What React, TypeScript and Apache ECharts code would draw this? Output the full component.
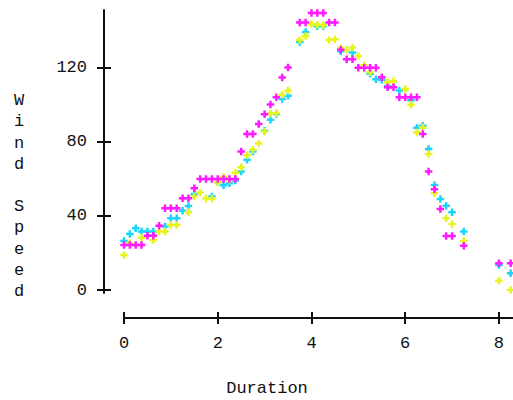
import React, { useEffect, useRef } from 'react';
import * as echarts from 'echarts';

const xTicks = [0, 2, 4, 6, 8];
const yTicks = [0, 40, 80, 120];

const magenta: [number, number][] = [
  [0, 24.3], [0.125, 24.3], [0.25, 24.3], [0.375, 24.3], [0.5, 29.3], [0.625, 29.3],
  [0.75, 34.6], [0.875, 44.1], [1.0, 44.1], [1.125, 44.1], [1.25, 49.5], [1.375, 49.5],
  [1.5, 54.9], [1.625, 59.9], [1.75, 59.9], [1.875, 59.9], [2.0, 59.9], [2.125, 59.9],
  [2.25, 59.9], [2.375, 59.9], [2.5, 74.7], [2.625, 84.2], [2.75, 84.2], [2.875, 89.5],
  [3.0, 94.8], [3.125, 100], [3.25, 104], [3.375, 114.6], [3.5, 120], [3.75, 144.3],
  [3.875, 144.3], [4.0, 149.4], [4.125, 149.4], [4.25, 149.4], [4.375, 144.3], [4.5, 144.3],
  [4.625, 129.6], [4.75, 124.4], [4.875, 124.4], [5.0, 119.8], [5.125, 119.8], [5.25, 119.8],
  [5.375, 119.8], [5.5, 114.7], [5.625, 109.4], [5.75, 109.4], [5.875, 104], [6.0, 104],
  [6.125, 104], [6.25, 104], [6.375, 84.2], [6.5, 63.9], [6.625, 54.4], [6.75, 43.7],
  [6.875, 29.2], [7.0, 29.2], [7.25, 23.9], [8.0, 14.4], [8.25, 14.4],
];

const cyan: [number, number][] = [
  [0, 26.5], [0.125, 30.2], [0.25, 33.3], [0.375, 31.5], [0.5, 31.5], [0.625, 31.5],
  [0.875, 34.2], [1.0, 38.7], [1.125, 38.7], [1.25, 42.8], [1.375, 45.3], [1.5, 51.8],
  [1.875, 50.4], [2.0, 58.1], [2.125, 56.5], [2.25, 57.6], [2.375, 59], [2.5, 63.9],
  [2.625, 70.2], [2.75, 74.7], [3.0, 85.9], [3.125, 91.8], [3.25, 94.9], [3.375, 103],
  [3.5, 104.8], [3.75, 133.7], [3.875, 139.1], [4.125, 142.2], [4.25, 142.2], [4.625, 128.7],
  [4.875, 128.1], [5.25, 116.6], [5.375, 113.6], [5.5, 113.4], [5.625, 110], [5.875, 107.6],
  [6.125, 102.4], [6.25, 87.5], [6.375, 88.6], [6.5, 76], [6.625, 56.7], [6.75, 49.1],
  [6.875, 45.4], [7.0, 42], [7.25, 31.5], [8.0, 13.5], [8.25, 9],
];

const yellow: [number, number][] = [
  [0, 18.9], [0.125, 25.2], [0.375, 28.2], [0.625, 27], [0.75, 31.5], [0.875, 31.5],
  [1.0, 35.1], [1.125, 35.1], [1.375, 42], [1.5, 50.4], [1.625, 52.6], [1.75, 49.3],
  [1.875, 49.3], [2.0, 58.1], [2.125, 61], [2.25, 59.5], [2.375, 63.2], [2.5, 66.2],
  [2.625, 72.7], [2.75, 75.6], [2.875, 79], [3.0, 85.5], [3.125, 95.2], [3.25, 95.5],
  [3.375, 105.3], [3.5, 107.6], [3.75, 134.8], [3.875, 137], [4.0, 143.4], [4.125, 143],
  [4.25, 142.8], [4.375, 134.8], [4.5, 135.2], [4.625, 130.5], [4.75, 129.4], [4.875, 130.8],
  [5.0, 126.2], [5.125, 121.2], [5.25, 117.5], [5.625, 112], [5.75, 112.7], [6.0, 108.4],
  [6.125, 99.9], [6.25, 85], [6.375, 87.7], [6.5, 73.3], [6.625, 52.2], [6.875, 38.7],
  [7.0, 35.6], [7.25, 26.5], [8.0, 5], [8.25, 0],
];

const seriesColors = { magenta: '#ff1aff', cyan: '#1ad6ff', yellow: '#e8f51c' };

export default function App() {
  const ref = useRef<HTMLDivElement>(null);
  useEffect(() => {
    const chart = echarts.init(ref.current!, null, { renderer: 'svg' });
    const font = 'Liberation Mono';
    const ink = '#111';
    const plus = 'path://M3,0H6V3H9V6H6V9H3V6H0V3H3Z';
    const xCommon = {
      type: 'value', position: 'bottom', offset: 25, min: 0, max: 8.3,
      splitLine: { show: false },
    };
    const yCommon = {
      type: 'value', position: 'left', offset: 20, min: -1.6, max: 151,
      splitLine: { show: false },
    };
    const mk = (name: string, data: [number, number][], color: string) => ({
      type: 'scatter', name, data, symbol: plus, symbolSize: 7.5,
      itemStyle: { color, opacity: 1 }, clip: false,
    });
    chart.setOption({
      animation: false,
      backgroundColor: '#ffffff',
      grid: { left: 124, right: 0, top: 10, bottom: 107 },
      xAxis: [
        {
          ...xCommon,
          axisLine: { show: true, onZero: false, lineStyle: { color: ink, width: 2 } },
          axisTick: { show: true, length: 6, customValues: xTicks, lineStyle: { color: ink, width: 2 } },
          axisLabel: { customValues: xTicks, margin: 17, fontFamily: font, fontSize: 17, color: ink },
        },
        {
          ...xCommon,
          axisLine: { show: false, onZero: false },
          axisTick: { show: true, inside: true, length: 6, customValues: xTicks, lineStyle: { color: ink, width: 2 } },
          axisLabel: { show: false },
        },
      ],
      yAxis: [
        {
          ...yCommon,
          axisLine: { show: true, onZero: false, lineStyle: { color: ink, width: 2 } },
          axisTick: { show: true, length: 7, customValues: yTicks, lineStyle: { color: ink, width: 2 } },
          axisLabel: { customValues: yTicks, margin: 17, fontFamily: font, fontSize: 17, color: ink },
        },
        {
          ...yCommon,
          axisLine: { show: false, onZero: false },
          axisTick: { show: true, inside: true, length: 7, customValues: yTicks, lineStyle: { color: ink, width: 2 } },
          axisLabel: { show: false },
        },
      ],
      graphic: [
        {
          type: 'text', x: 267, y: 388,
          style: { text: 'Duration', fontFamily: font, fontSize: 17, fill: ink, textAlign: 'center', textVerticalAlign: 'middle' },
        },
        {
          type: 'text', x: 19, y: 90,
          style: {
            text: 'W\ni\nn\nd\n\nS\np\ne\ne\nd', fontFamily: font, fontSize: 17, fill: ink,
            textAlign: 'center', textVerticalAlign: 'top', lineHeight: 21.2,
          },
        },
      ],
      series: [
        mk('cyan', cyan, seriesColors.cyan),
        mk('yellow', yellow, seriesColors.yellow),
        mk('magenta', magenta, seriesColors.magenta),
      ],
    });
    return () => chart.dispose();
  }, []);
  return <div ref={ref} style={{ position: 'fixed', left: 0, top: 0, width: 513, height: 400 }} />;
}
